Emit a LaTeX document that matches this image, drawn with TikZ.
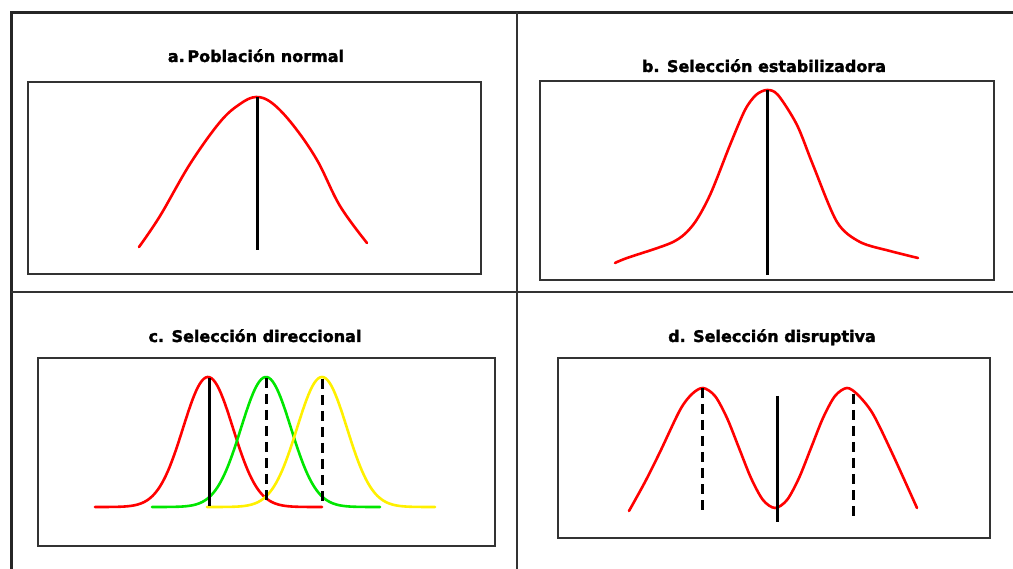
\documentclass[tikz,border=0pt]{standalone}
\usepackage{fontspec}
\setmainfont{Liberation Sans}
\newfontfamily\ttlfont[FakeBold=1.8]{DejaVu Sans Bold}
\definecolor{cred}{RGB}{255,0,0}
\definecolor{cgreen}{RGB}{0,230,0}
\definecolor{cyellow}{RGB}{255,240,0}
\begin{document}
\begin{tikzpicture}[x=1pt,y=-1pt,
  frame/.style={line width=3pt,black!85},
  divider/.style={line width=2pt,black!80},
  panelbox/.style={line width=1.4pt,black!80},
  curve/.style={line width=2.6pt,line join=round,line cap=round},
  mean/.style={line width=3pt,black},
  shifted/.style={line width=3pt,black,dash pattern=on 10pt off 6pt},
  ttl/.style={font=\ttlfont\fontsize{16}{18}\selectfont,anchor=base,inner sep=0pt}]
\useasboundingbox (0,0) rectangle (1013,569);
% outer frame and dividers
\draw[frame] (11,569) -- (11,12.5) -- (1013,12.5);
\draw[divider] (517,12.5) -- (517,569);
\draw[divider] (11,292) -- (1013,292);
% titles
\node[ttl] (ta) at (256,62) {a.\,Población normal};
\node[ttl] (tb) at (764,72) {b. Selección estabilizadora};
\node[ttl] (tc) at (255,342) {c. Selección direccional};
\node[ttl] (td) at (772,342) {d. Selección disruptiva};
% panel boxes
\draw[panelbox] (28,82) rectangle (481,274);
\draw[panelbox] (540,81) rectangle (994,280);
\draw[panelbox] (38,358) rectangle (495,546);
\draw[panelbox] (558,358) rectangle (990,538);
% a. normal population
\draw[curve,cred] plot[smooth,tension=0.6] coordinates {(139,247) (160,216) (190,164) (220,122) (240,104) (256,97) (272,103) (293,125) (317,160) (340,206) (367,243)};
\draw[mean] (257,97) -- (257,250);
% b. stabilizing
\draw[curve,cred] plot[smooth,tension=0.5] coordinates {(615,263) (627,258) (673,242) (693,225) (710,195) (730,145) (745,110) (756,95) (767,90) (778,95) (797,125) (813,165) (837,222) (860,242) (890,251) (918,258)};
\draw[mean] (767,90) -- (767,275);
% c. directional
\draw[curve,cred,domain=95:322,samples=120] plot (\x,{507-130*exp(-((\x-208)^2)/1250)});
\draw[curve,cgreen,domain=152:380,samples=120] plot (\x,{507-130*exp(-((\x-266)^2)/1250)});
\draw[curve,cyellow,domain=207:435,samples=120] plot (\x,{507-130*exp(-((\x-322)^2)/1250)});
\draw[mean] (209,378) -- (209,506);
\draw[shifted] (266,378) -- (266,506);
\draw[shifted] (322,379) -- (322,506);
% d. disruptive
\draw[curve,cred] plot[smooth,tension=0.5] coordinates {(629,511) (645,482) (660,452) (680,410) (692,394) (703,388) (715,396) (727,418) (739,448) (751,478) (763,500) (775,508) (787,500) (799,478) (811,448) (823,418) (835,396) (847,388) (858,395) (873,414) (893,455) (917,508)};
\draw[mean] (777,396) -- (777,522);
\draw[shifted] (702,388) -- (702,514);
\draw[shifted] (853,394) -- (853,522);
\end{tikzpicture}
\end{document}
